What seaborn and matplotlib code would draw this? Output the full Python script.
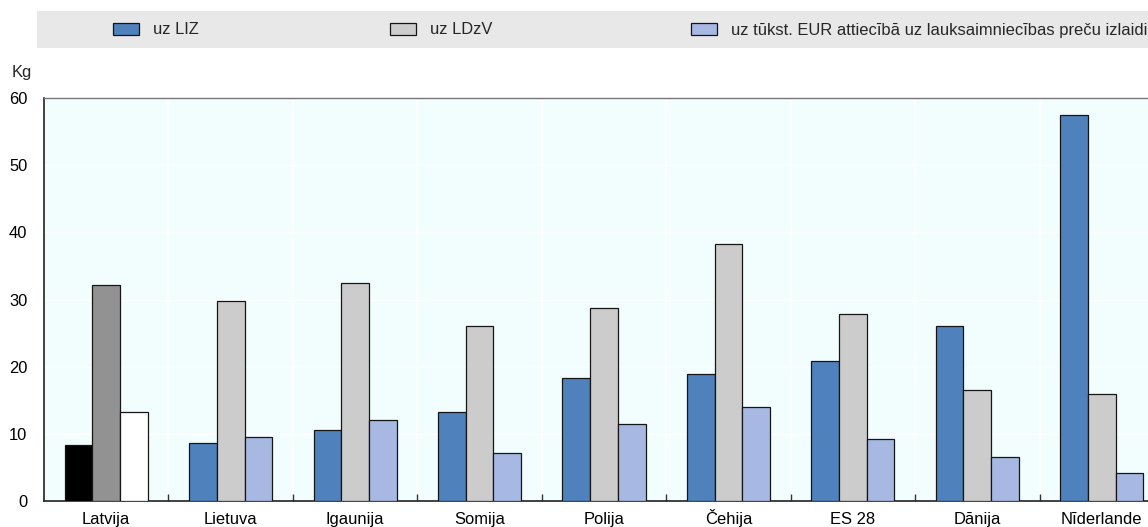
import matplotlib
matplotlib.use("Agg")
import matplotlib.pyplot as plt
from matplotlib.patches import Patch, Rectangle
from matplotlib.ticker import FixedLocator
import pandas as pd
import seaborn as sns

# Pesticide use by country (kg)
countries = ["Latvija", "Lietuva", "Igaunija", "Somija", "Polija",
             "Čehija", "ES 28", "Dānija", "Nīderlande"]
series_names = ["uz LIZ", "uz LDzV",
                "uz tūkst. EUR attiecībā uz lauksaimniecības preču izlaidi"]
per_uaa = [8.3, 8.7, 10.5, 13.3, 18.3, 18.9, 20.8, 26.0, 57.4]
per_lu = [32.2, 29.8, 32.4, 26.1, 28.8, 38.2, 27.8, 16.5, 16.0]
per_output = [13.3, 9.6, 12.1, 7.2, 11.5, 14.0, 9.2, 6.6, 4.2]
y_ticks = [0, 10, 20, 30, 40, 50, 60]

series_colors = ["#4F81BD", "#CCCCCC", "#A7B9E3"]
highlight_colors = ["#000000", "#929292", "#FFFFFF"]

df = pd.DataFrame({
    "country": countries * 3,
    "series": [s for s in series_names for _ in countries],
    "value": per_uaa + per_lu + per_output,
})

sns.set_theme(style="white")
plt.rcParams["font.family"] = ["Liberation Sans", "DejaVu Sans"]
FS = 11.9

fig = plt.figure(figsize=(11.48, 5.27), dpi=100)
ax = fig.add_axes([44 / 1148, 26 / 527, 1120 / 1148, 403 / 527])
ax.set_facecolor("#F2FEFE")

sns.barplot(data=df, x="country", y="value", hue="series",
            order=countries, hue_order=series_names,
            palette=series_colors, width=0.667, gap=0,
            edgecolor="#151515", linewidth=0.9, saturation=1,
            legend=False, ax=ax, zorder=3)

# Highlight the first country
for container, col in zip(ax.containers, highlight_colors):
    container.patches[0].set_facecolor(col)

ax.set_xlim(-0.5, len(countries) - 0.5)
ax.set_ylim(0, 60)
ax.set_yticks(y_ticks)
ax.xaxis.set_minor_locator(FixedLocator([i + 0.5 for i in range(len(countries) - 1)]))
ax.grid(False)
ax.grid(axis="x", which="minor", color="white", linewidth=1.2, zorder=0)
ax.grid(axis="y", which="major", color="white", linewidth=1.0, zorder=0)
ax.set_axisbelow(True)

ax.tick_params(axis="x", which="major", length=0, pad=16.5, labelsize=FS, labelcolor="black")
ax.tick_params(axis="x", which="minor", length=5, width=1, direction="in",
               color="#333333", bottom=True)
ax.tick_params(axis="y", length=0, pad=12, labelsize=FS, labelcolor="black")
for lbl in ax.get_xticklabels():
    lbl.set_verticalalignment("baseline")
ax.set_xlabel("")
ax.set_ylabel("")

for side in ["left", "bottom"]:
    ax.spines[side].set_color("#222222")
    ax.spines[side].set_linewidth(1.2)
ax.spines["top"].set_color("#777777")
ax.spines["top"].set_linewidth(1.0)
ax.spines["right"].set_visible(False)

fig.text(22 / 1148, 1 - 73 / 527, "Kg", ha="center", va="center", fontsize=FS)

# Legend band
fig.patches.append(Rectangle((37 / 1148, 1 - 48 / 527), 1 - 37 / 1148, 37 / 527,
                             transform=fig.transFigure, facecolor="#E8E8E8",
                             edgecolor="none", zorder=0))
legend_x = [113 / 1148, 390 / 1148, 691 / 1148]
for name, col, x in zip(series_names, series_colors, legend_x):
    fig.legend([Patch(facecolor=col, edgecolor="#151515", linewidth=0.9)], [name],
               loc="center left", bbox_to_anchor=(x, 1 - 30 / 527),
               frameon=False, borderpad=0, borderaxespad=0,
               handlelength=1.55, handleheight=0.75, handletextpad=0.85,
               fontsize=FS)

fig.savefig("out.png", dpi=100)
